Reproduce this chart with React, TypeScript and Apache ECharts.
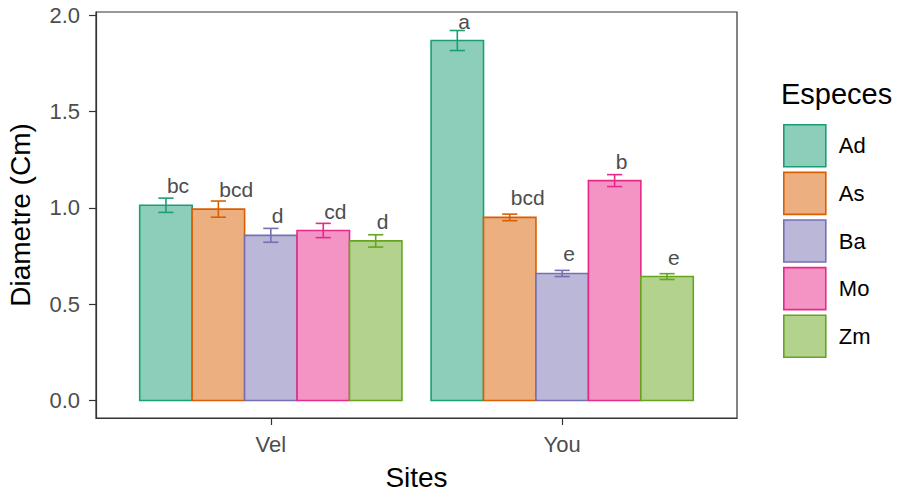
import React, { useEffect, useRef } from "react";
import * as echarts from "echarts";

// ---- data ----
const sites = ["Vel", "You"];
const sitePositions = [1, 2];
const species = ["Ad", "As", "Ba", "Mo", "Zm"];

const meanAd = [1.013, 1.868];
const meanAs = [0.993, 0.95];
const meanBa = [0.857, 0.659];
const meanMo = [0.882, 1.141];
const meanZm = [0.828, 0.643];

const seAd = [0.037, 0.052];
const seAs = [0.042, 0.017];
const seBa = [0.036, 0.016];
const seMo = [0.037, 0.031];
const seZm = [0.032, 0.015];

const lettersAd = ["bc", "a"];
const lettersAs = ["bcd", "bcd"];
const lettersBa = ["d", "e"];
const lettersMo = ["cd", "b"];
const lettersZm = ["d", "e"];

const yTicks = [0, 0.5, 1.0, 1.5, 2.0];

const means = [meanAd, meanAs, meanBa, meanMo, meanZm];
const ses = [seAd, seAs, seBa, seMo, seZm];
const letters = [lettersAd, lettersAs, lettersBa, lettersMo, lettersZm];

const strokeColors = ["#1B9E77", "#D95F02", "#7570B3", "#E7298A", "#66A61E"];
const fillColors = ["#8DCEBB", "#ECAF80", "#BAB7D9", "#F394C4", "#B2D28E"];

const FONT = '"Liberation Sans", Arial, sans-serif';

export default function App() {
  const ref = useRef<HTMLDivElement>(null);

  useEffect(() => {
    const el = ref.current;
    if (!el) return;
    const chart = echarts.init(el, null, { renderer: "svg" });

    const dodge = 0.18;
    const half = 0.09;
    const cap = 0.026;

    const makeRender = (k: number) => (params: any, api: any) => {
      const x = api.value(0) as number;
      const y = api.value(1) as number;
      const se = api.value(2) as number;
      const cx = x + (k - 2) * dodge;
      const tl = api.coord([cx - half, y]);
      const br = api.coord([cx + half, 0]);
      const c = api.coord([cx, y]);
      const eTop = api.coord([cx, y + se]);
      const eBot = api.coord([cx, y - se]);
      const capL = api.coord([cx - cap, y])[0];
      const capR = api.coord([cx + cap, y])[0];
      const stroke = strokeColors[k];
      const txt = letters[k][params.dataIndex];
      return {
        type: "group",
        children: [
          {
            type: "rect",
            shape: { x: tl[0], y: tl[1], width: br[0] - tl[0], height: br[1] - tl[1] },
            style: { fill: fillColors[k], stroke, lineWidth: 1.6 },
          },
          {
            type: "line",
            shape: { x1: c[0], y1: eTop[1], x2: c[0], y2: eBot[1] },
            style: { stroke, lineWidth: 1.6 },
          },
          {
            type: "line",
            shape: { x1: capL, y1: eTop[1], x2: capR, y2: eTop[1] },
            style: { stroke, lineWidth: 1.6 },
          },
          {
            type: "line",
            shape: { x1: capL, y1: eBot[1], x2: capR, y2: eBot[1] },
            style: { stroke, lineWidth: 1.6 },
          },
          {
            type: "text",
            x: c[0] + 1,
            y: tl[1] - 9,
            style: {
              text: txt,
              fill: "#4d4d4d",
              font: `21px ${FONT}`,
              textAlign: "left",
              textVerticalAlign: "bottom",
            },
          },
        ],
      };
    };

    const series = species.map((name, k) => ({
      name,
      type: "custom",
      renderItem: makeRender(k),
      itemStyle: { color: fillColors[k], borderColor: strokeColors[k], borderWidth: 1.6 },
      encode: { x: 0, y: 1 },
      data: sitePositions.map((p, i) => [p, means[k][i], ses[k][i]]),
    }));

    const axisLineStyle = { color: "#333333", width: 1.2 };

    chart.setOption({
      animation: false,
      backgroundColor: "#ffffff",
      textStyle: { fontFamily: FONT },
      grid: {
        left: 96,
        right: 162,
        top: 12,
        bottom: 74,
        outerBoundsMode: "none",
        containLabel: false,
        show: true,
        borderColor: "#333333",
        borderWidth: 1.2,
      },
      xAxis: {
        type: "value",
        min: 0.4,
        max: 2.6,
        splitLine: { show: false },
        axisLine: { show: true, onZero: false, lineStyle: axisLineStyle },
        axisTick: { show: true, length: 7, customValues: sitePositions, lineStyle: axisLineStyle },
        axisLabel: {
          customValues: sitePositions,
          formatter: (v: number) => sites[Math.round(v) - 1] ?? "",
          fontSize: 22,
          color: "#4d4d4d",
          margin: 15,
          fontFamily: FONT,
        },
        name: "Sites",
        nameLocation: "middle",
        nameGap: 45,
        nameTextStyle: { fontSize: 28, color: "#000000", fontFamily: FONT },
      },
      yAxis: {
        type: "value",
        min: -0.091,
        max: 2.016,
        splitLine: { show: false },
        axisLine: { show: true, onZero: false, lineStyle: axisLineStyle },
        axisTick: { show: true, length: 7, customValues: yTicks, lineStyle: axisLineStyle },
        axisLabel: {
          customValues: yTicks,
          formatter: (v: number) => v.toFixed(1),
          fontSize: 22,
          color: "#4d4d4d",
          margin: 16,
          fontFamily: FONT,
        },
        name: "Diametre (Cm)",
        nameLocation: "middle",
        nameGap: 62,
        nameTextStyle: { fontSize: 28, color: "#000000", fontFamily: FONT },
      },
      legend: {
        orient: "vertical",
        left: 778,
        top: 119,
        itemWidth: 42,
        itemHeight: 42,
        itemGap: 4,
        icon: "rect",
        textStyle: { fontSize: 22, color: "#000000", fontFamily: FONT, padding: [0, 0, 0, 8] },
        data: species.map((name, k) => ({
          name,
          itemStyle: { color: fillColors[k], borderColor: strokeColors[k], borderWidth: 1.6 },
        })),
      },
      graphic: [
        {
          type: "text",
          left: 781,
          top: 79,
          style: { text: "Especes", fill: "#000000", font: `29px ${FONT}` },
        },
      ],
      series,
    });

    return () => chart.dispose();
  }, []);

  return (
    <div
      ref={ref}
      style={{ position: "fixed", left: 0, top: 0, width: 899, height: 492 }}
    />
  );
}
